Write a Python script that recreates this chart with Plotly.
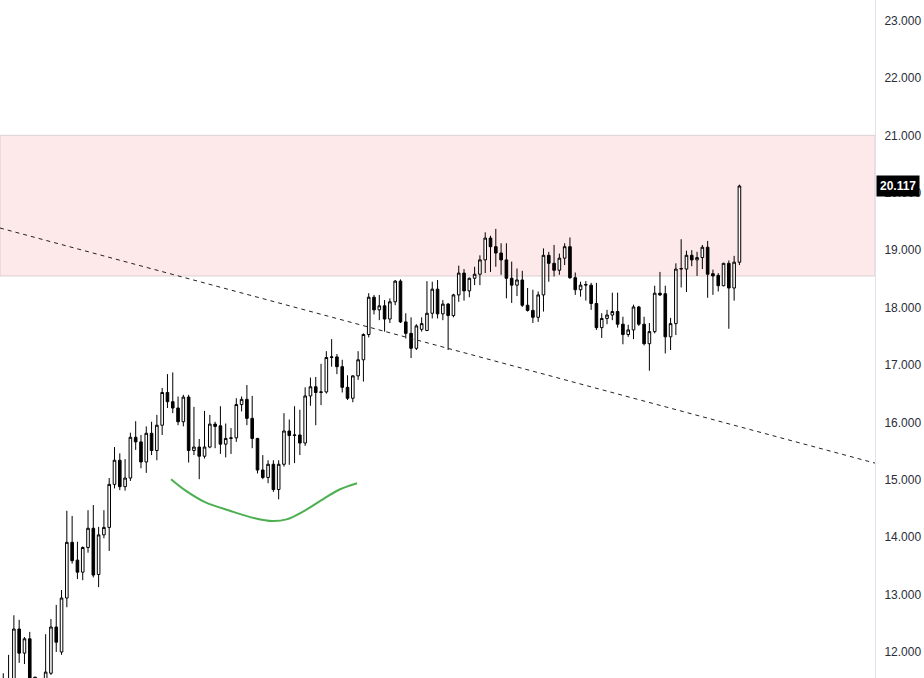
import plotly.graph_objects as go

# ---------------- data ----------------
opens = [11.40, 11.30, 11.50, 12.40, 11.98, 12.23, 11.56, 11.40, 11.50, 11.63,
         12.435, 12.00, 12.94, 13.91, 13.60, 13.39, 13.82, 14.155, 13.35, 14.04,
         14.17, 14.92, 15.34, 14.88, 15.03, 15.74, 15.66, 15.31, 15.81, 15.51,
         15.95, 16.52, 16.36, 16.25, 16.01, 16.44, 15.51, 15.57, 15.41, 15.57,
         15.97, 15.94, 15.62, 15.72, 15.73, 16.31, 16.40, 16.07, 15.72, 15.17,
         15.04, 15.27, 14.83, 15.27, 15.85, 15.77, 15.78, 15.64, 16.46, 16.62,
         16.52, 16.53, 17.13, 17.14, 16.97, 16.61, 16.42, 16.81, 17.09, 17.53,
         18.18, 17.96, 18.03, 17.80, 18.10, 18.46, 17.75, 17.55, 17.29, 17.62,
         17.60, 17.90, 18.32, 17.89, 18.06, 17.86, 18.22, 18.60, 18.29, 18.51,
         18.58, 18.83, 19.21, 19.06, 18.95, 18.83, 18.51, 18.39, 18.48, 18.04,
         17.95, 17.83, 18.22, 18.91, 18.77, 18.65, 18.86, 19.06, 18.52, 18.31,
         18.39, 18.39, 18.07, 17.65, 17.81, 17.87, 17.93, 17.71, 17.53, 17.61,
         18.01, 17.71, 17.37, 17.58, 18.25, 18.24, 17.49, 17.72, 18.67, 18.67,
         18.91, 18.83, 18.87, 19.05, 18.59, 18.56, 18.38, 18.77, 18.34, 18.79]
highs = [11.63, 11.95, 12.64, 12.56, 12.26, 12.35, 11.57, 11.50, 12.31, 12.575,
         12.82, 13.08, 14.46, 14.37, 13.92, 13.84, 14.47, 14.56, 14.18, 14.47,
         15.03, 15.57, 15.46, 15.36, 15.82, 16.02, 15.78, 15.93, 16.01, 16.13,
         16.60, 16.84, 16.87, 16.45, 16.48, 16.48, 16.27, 15.71, 16.20, 16.13,
         16.01, 16.28, 15.98, 15.90, 16.42, 16.45, 16.65, 16.46, 15.73, 15.43,
         15.34, 15.34, 15.34, 16.16, 16.05, 16.28, 16.22, 16.61, 16.78, 16.79,
         17.02, 17.24, 17.45, 17.19, 17.09, 16.82, 16.82, 17.24, 17.55, 18.25,
         18.22, 18.22, 18.13, 18.16, 18.48, 18.49, 17.90, 17.83, 17.71, 17.83,
         18.46, 18.45, 18.48, 18.13, 18.08, 18.24, 18.73, 18.67, 18.52, 18.71,
         18.91, 19.31, 19.25, 19.37, 19.12, 19.12, 18.80, 18.68, 18.64, 18.34,
         18.31, 18.28, 19.03, 18.97, 19.09, 18.94, 19.12, 19.22, 18.61, 18.45,
         18.46, 18.43, 18.43, 17.90, 17.96, 18.26, 18.26, 17.84, 17.70, 18.05,
         18.03, 17.84, 17.73, 18.38, 18.62, 18.38, 17.82, 18.77, 19.19, 18.99,
         19.00, 18.97, 19.09, 19.16, 18.66, 18.60, 18.78, 18.82, 18.90, 20.14]
lows = [11.20, 11.10, 11.40, 11.81, 11.79, 11.40, 11.30, 11.20, 11.45, 11.60,
        12.00, 11.95, 12.78, 13.54, 13.27, 13.25, 13.73, 13.30, 13.13, 13.98,
        13.76, 14.85, 14.82, 14.81, 14.98, 15.52, 15.20, 15.12, 15.43, 15.34,
        15.78, 16.25, 16.16, 15.95, 15.93, 15.30, 15.43, 15.01, 15.37, 15.55,
        15.55, 15.45, 15.39, 15.45, 15.66, 16.19, 15.95, 15.55, 15.11, 15.01,
        14.94, 14.79, 14.66, 15.23, 15.26, 15.29, 15.43, 15.59, 16.29, 15.95,
        16.30, 16.50, 16.97, 16.84, 16.52, 16.39, 16.35, 16.74, 16.71, 17.48,
        17.88, 17.78, 17.58, 17.73, 18.04, 17.73, 17.46, 17.12, 17.26, 17.58,
        17.59, 17.81, 17.81, 17.78, 17.26, 17.83, 18.10, 18.12, 18.18, 18.39,
        18.39, 18.60, 18.62, 18.71, 18.57, 18.16, 18.08, 18.20, 18.01, 17.93,
        17.73, 17.75, 17.93, 18.45, 18.54, 18.57, 18.74, 18.50, 18.22, 18.19,
        18.12, 17.96, 17.61, 17.47, 17.71, 17.78, 17.65, 17.36, 17.49, 17.45,
        17.68, 17.34, 16.90, 17.55, 18.20, 17.20, 17.26, 17.52, 18.35, 18.27,
        18.72, 18.55, 18.67, 18.17, 18.22, 18.28, 18.37, 17.63, 18.12, 18.74]
closes = [11.50, 11.50, 12.40, 11.98, 12.23, 11.50, 11.40, 11.45, 11.65, 12.435,
          12.17, 12.94, 13.91, 13.59, 13.39, 13.82, 14.155, 13.34, 14.04, 14.17,
          14.92, 15.34, 14.88, 15.03, 15.74, 15.66, 15.31, 15.81, 15.51, 15.95,
          16.52, 16.36, 16.25, 16.01, 16.44, 15.51, 15.57, 15.41, 15.57, 15.97,
          15.93, 15.62, 15.72, 15.73, 16.31, 16.40, 16.07, 15.72, 15.17, 15.04,
          15.27, 14.83, 15.27, 15.85, 15.77, 15.78, 15.64, 16.46, 16.62, 16.52,
          16.53, 17.13, 17.14, 16.97, 16.61, 16.42, 16.81, 17.09, 17.53, 18.18,
          17.96, 18.03, 17.80, 18.10, 18.46, 17.75, 17.55, 17.29, 17.68, 17.72,
          17.90, 18.32, 17.89, 18.06, 17.86, 18.22, 18.60, 18.29, 18.51, 18.58,
          18.83, 19.21, 19.06, 18.95, 18.83, 18.51, 18.39, 18.48, 18.04, 17.95,
          17.83, 18.22, 18.91, 18.77, 18.65, 18.86, 19.06, 18.52, 18.31, 18.39,
          18.40, 18.07, 17.65, 17.81, 17.87, 17.93, 17.71, 17.53, 17.61, 18.01,
          17.71, 17.37, 17.58, 18.25, 18.22, 17.49, 17.72, 18.67, 18.68, 18.91,
          18.83, 18.87, 19.05, 18.58, 18.55, 18.38, 18.77, 18.34, 18.79, 20.117]
bars = list(range(len(closes)))

y_ticks = [12, 13, 14, 15, 16, 17, 18, 19, 20, 21, 22, 23]
y_tick_labels = [f"{v:.3f}" for v in y_ticks]
last_price = closes[-1]

# resistance zone (price levels)
zone_low = 18.55
zone_high = 21.00

# descending trend line (bar index, price)
trend_bars = [-0.62, 164.6]
trend_prices = [19.385, 15.29]

# rounded-bottom curve drawn under the base (bar index, price)
curve_bars = [31.67, 34.3, 38.1, 42.8, 47.5, 50.8, 53.5, 56.5, 60.0, 63.5, 66.8]
curve_prices = [15.01, 14.82, 14.61, 14.46, 14.33, 14.28, 14.31, 14.44, 14.64, 14.83, 14.94]

x_range = [-0.62, 164.6]
y_range = [11.547, 23.357]

# ---------------- figure ----------------
fig = go.Figure()

fig.add_trace(go.Candlestick(
    x=bars, open=opens, high=highs, low=lows, close=closes,
    increasing=dict(fillcolor="#ffffff", line=dict(color="#000000", width=1)),
    decreasing=dict(fillcolor="#000000", line=dict(color="#000000", width=1)),
    whiskerwidth=0, showlegend=False, hoverinfo="skip",
))

fig.add_trace(go.Scatter(
    x=trend_bars, y=trend_prices, mode="lines",
    line=dict(color="#222222", width=1, dash="4px,4px"),
    showlegend=False, hoverinfo="skip",
))

fig.add_trace(go.Scatter(
    x=curve_bars, y=curve_prices, mode="lines",
    line=dict(color="#4caf50", width=2, shape="spline", smoothing=1.0),
    showlegend=False, hoverinfo="skip",
))

fig.add_shape(
    type="rect", xref="paper", x0=0, x1=1, yref="y", y0=zone_low, y1=zone_high,
    fillcolor="#fde8ea", line=dict(color="#dcd0d2", width=1), layer="below",
)

fig.add_annotation(
    xref="paper", x=1.0, yref="y", y=last_price, text=f"<b>{last_price:.3f}</b>",
    showarrow=False, xanchor="left", yanchor="middle", xshift=1,
    bgcolor="#000000", font=dict(color="#ffffff", size=12, family="Liberation Sans"),
    borderpad=3,
)

fig.update_layout(
    width=924, height=678,
    margin=dict(l=0, r=49, t=0, b=0, pad=0, autoexpand=False),
    paper_bgcolor="#ffffff", plot_bgcolor="#ffffff",
    xaxis=dict(range=x_range, visible=False, rangeslider=dict(visible=False),
               showgrid=False, zeroline=False, automargin=False),
    yaxis=dict(range=y_range, side="right", tickvals=y_ticks, ticktext=y_tick_labels,
               showgrid=False, zeroline=False, showline=True, linecolor="#e0e3eb",
               linewidth=1, ticks="", ticklabelstandoff=6, automargin=False,
               tickfont=dict(family="Liberation Sans", size=12, color="#2a2e39")),
    showlegend=False,
)

fig.write_html(
    "out.html",
    config={"displayModeBar": False, "staticPlot": True},
    post_script="document.body.style.margin='0';document.body.style.overflow='hidden';",
)
